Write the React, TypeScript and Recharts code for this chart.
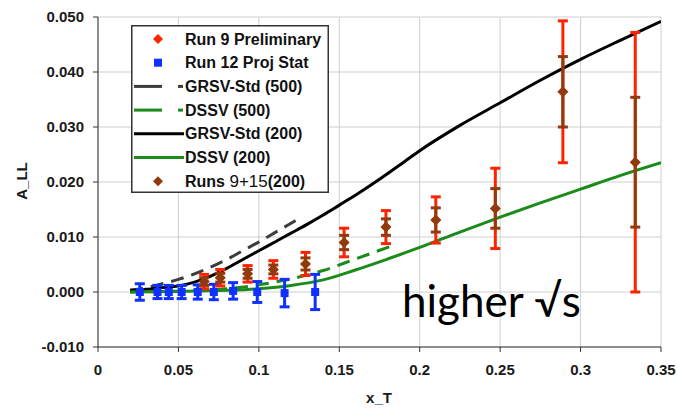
import React from 'react';
import {
  ComposedChart,
  Line,
  Scatter,
  ErrorBar,
  XAxis,
  YAxis,
  CartesianGrid,
  Legend,
} from 'recharts';

// axis ticks
const xTicks = [0, 0.05, 0.1, 0.15, 0.2, 0.25, 0.3, 0.35];
const yTicks = [-0.01, 0, 0.01, 0.02, 0.03, 0.04, 0.05];

// theory curves (x_T, A_LL)
const grsv500X = [0.02, 0.03, 0.04, 0.05, 0.06, 0.07, 0.08, 0.09, 0.1, 0.11, 0.12, 0.127];
const grsv500Y = [0.0003, 0.0008, 0.0015, 0.0023, 0.0033, 0.0045, 0.0059, 0.0075, 0.0091, 0.0108, 0.0125, 0.0138];

const dssv500X = [0.02, 0.04, 0.06, 0.08, 0.1, 0.12, 0.14, 0.16, 0.181];
const dssv500Y = [0.0, 0.0001, 0.0003, 0.0006, 0.0013, 0.0024, 0.0039, 0.006, 0.0082];

const grsv200X = [0.02, 0.03, 0.04, 0.05, 0.06, 0.07, 0.08, 0.09, 0.1, 0.11, 0.12, 0.13, 0.14, 0.15, 0.16, 0.175, 0.19, 0.2, 0.225, 0.25, 0.275, 0.3, 0.325, 0.35];
const grsv200Y = [0.0003, 0.0005, 0.0008, 0.0011, 0.0018, 0.0029, 0.0043, 0.0059, 0.0075, 0.0091, 0.0107, 0.0123, 0.014, 0.0158, 0.0176, 0.0205, 0.0236, 0.0257, 0.0303, 0.0344, 0.0385, 0.0423, 0.0458, 0.0492];

const dssv200X = [0.02, 0.05, 0.08, 0.1, 0.12, 0.14, 0.16, 0.18, 0.2, 0.225, 0.25, 0.275, 0.3, 0.325, 0.35];
const dssv200Y = [0.0, 0.0001, 0.0003, 0.0006, 0.0012, 0.0022, 0.004, 0.006, 0.0081, 0.0109, 0.0136, 0.0162, 0.0187, 0.0212, 0.0235];

// 200 GeV bins: Run 9 preliminary and Runs 9+15 share the central values
const binX = [0.066, 0.076, 0.093, 0.109, 0.129, 0.153, 0.179, 0.21, 0.247, 0.289, 0.334];
const binALL = [0.0019, 0.0026, 0.0033, 0.0041, 0.0051, 0.009, 0.0118, 0.0131, 0.0152, 0.0364, 0.0236];
const run9Err = [0.0013, 0.0015, 0.0015, 0.0016, 0.0021, 0.0026, 0.003, 0.0042, 0.0073, 0.0129, 0.0236];
const runs915Err = [0.0007, 0.0008, 0.0008, 0.0008, 0.0011, 0.0013, 0.0015, 0.0022, 0.0036, 0.0064, 0.0118];

// Run 12 projected statistical uncertainties
const run12X = [0.026, 0.037, 0.044, 0.052, 0.062, 0.072, 0.084, 0.099, 0.116, 0.135];
const run12ALL = [0, 0, 0, 0, 0, 0, 0.0002, 0, -0.0002, 0];
const run12Err = [0.0015, 0.0012, 0.0012, 0.0012, 0.0013, 0.0014, 0.0015, 0.0019, 0.0025, 0.0032];

const RED = '#ff2200';
const BLUE = '#1030ff';
const BROWN = '#933a0c';
const GREEN = '#1b8c1b';
const DARK = '#3c3c3c';
const FONT = '"Liberation Sans", Arial, sans-serif';

const curve = (xs: number[], ys: number[]) => xs.map((x, i) => ({ x, y: ys[i] }));
const points = (xs: number[], ys: number[], errs: number[]) =>
  xs.map((x, i) => ({ x, y: ys[i], err: errs[i] }));

const grsv500 = curve(grsv500X, grsv500Y);
const dssv500 = curve(dssv500X, dssv500Y);
const grsv200 = curve(grsv200X, grsv200Y);
const dssv200 = curve(dssv200X, dssv200Y);
const run9 = points(binX, binALL, run9Err);
const runs915 = points(binX, binALL, runs915Err);
const run12 = points(run12X, run12ALL, run12Err);

const Diamond = (color: string, r: number) => (props: any) => {
  const { cx, cy } = props;
  if (cx == null || cy == null) return <g />;
  return (
    <polygon
      points={`${cx},${cy - r} ${cx + r},${cy} ${cx},${cy + r} ${cx - r},${cy}`}
      fill={color}
    />
  );
};

const Square = (color: string, h: number) => (props: any) => {
  const { cx, cy } = props;
  if (cx == null || cy == null) return <g />;
  return <rect x={cx - h} y={cy - h} width={h * 2} height={h * 2} fill={color} />;
};

const legendRows = [
  { kind: 'diamond', color: RED, label: 'Run 9 Preliminary' },
  { kind: 'square', color: BLUE, label: 'Run 12 Proj Stat' },
  { kind: 'dash', color: DARK, label: 'GRSV-Std (500)' },
  { kind: 'dash', color: GREEN, label: 'DSSV (500)' },
  { kind: 'line', color: '#000000', label: 'GRSV-Std (200)' },
  { kind: 'line', color: GREEN, label: 'DSSV (200)' },
  { kind: 'diamond', color: BROWN, label: 'runs' },
];

const LegendBox = () => (
  <svg width={198} height={168} style={{ display: 'block' }}>
    <rect x={0.75} y={0.75} width={196.5} height={166.5} fill="#ffffff" stroke="#333333" strokeWidth={1.5} />
    {legendRows.map((row, i) => {
      const y = 14 + i * 23.7;
      let symbol: React.ReactNode = null;
      if (row.kind === 'diamond') {
        symbol = <polygon points={`27,${y - 5} 32,${y} 27,${y + 5} 22,${y}`} fill={row.color} />;
      } else if (row.kind === 'square') {
        symbol = <rect x={23} y={y - 4} width={8} height={8} fill={row.color} />;
      } else if (row.kind === 'dash') {
        symbol = (
          <g stroke={row.color} strokeWidth={3}>
            <line x1={3} y1={y} x2={31} y2={y} />
            <line x1={47} y1={y} x2={52} y2={y} />
          </g>
        );
      } else {
        symbol = <line x1={3} y1={y} x2={53} y2={y} stroke={row.color} strokeWidth={3} />;
      }
      return (
        <g key={i}>
          {symbol}
          <text x={54} y={y + 5.5} fontFamily={FONT} fontSize={16} fontWeight="bold" fill="#111">
            {row.label === 'runs' ? (
              <>
                <tspan>Runs </tspan>
                <tspan fontWeight="normal" fontSize={17}> 9+15</tspan>
                <tspan>(200)</tspan>
              </>
            ) : (
              row.label
            )}
          </text>
        </g>
      );
    })}
  </svg>
);

const tickStyle = { fill: '#1a1a1a', fontSize: 15, fontWeight: 'bold', fontFamily: FONT };

export default function App() {
  return (
    <div style={{ position: 'absolute', left: 0, top: 0, background: '#ffffff' }}>
      <ComposedChart width={677} height={408} margin={{ top: 17, right: 16, bottom: 0, left: 0 }}>
        <CartesianGrid stroke="#cfcfcf" strokeWidth={1} />
        <XAxis
          dataKey="x"
          type="number"
          domain={[0, 0.35]}
          ticks={xTicks}
          allowDataOverflow
          height={61}
          tick={tickStyle}
          tickSize={5}
          tickMargin={12}
          tickFormatter={(v: number) => String(v)}
          stroke="#333333"
        />
        <YAxis
          type="number"
          domain={[-0.01, 0.05]}
          ticks={yTicks}
          allowDataOverflow
          width={98}
          tick={tickStyle}
          tickSize={5}
          tickMargin={9}
          tickFormatter={(v: number) => v.toFixed(3)}
          stroke="#333333"
        />
        <Line data={grsv500} dataKey="y" type="monotone" stroke={DARK} strokeWidth={3} strokeDasharray="13 8" dot={false} isAnimationActive={false} />
        <Line data={dssv500} dataKey="y" type="monotone" stroke={GREEN} strokeWidth={3} strokeDasharray="13 8" dot={false} isAnimationActive={false} />
        <Line data={grsv200} dataKey="y" type="monotone" stroke="#000000" strokeWidth={3} dot={false} isAnimationActive={false} />
        <Line data={dssv200} dataKey="y" type="monotone" stroke={GREEN} strokeWidth={3} dot={false} isAnimationActive={false} />
        <Scatter data={run12} dataKey="y" shape={Square(BLUE, 4)} isAnimationActive={false}>
          <ErrorBar dataKey="err" direction="y" width={5} strokeWidth={3} stroke={BLUE} />
        </Scatter>
        <Scatter data={run9} dataKey="y" shape={Diamond(RED, 5)} isAnimationActive={false}>
          <ErrorBar dataKey="err" direction="y" width={5} strokeWidth={3} stroke={RED} />
        </Scatter>
        <Scatter data={runs915} dataKey="y" shape={Diamond(BROWN, 5.5)} isAnimationActive={false}>
          <ErrorBar dataKey="err" direction="y" width={5} strokeWidth={3} stroke={BROWN} />
        </Scatter>
        <Legend
          layout="vertical"
          align="center"
          verticalAlign="middle"
          content={() => <LegendBox />}
          wrapperStyle={{ left: 131, top: 25, width: 198, height: 168 }}
        />
        <text x={27} y={181} transform="rotate(-90 27 181)" textAnchor="middle" fontFamily={FONT} fontSize={15} fontWeight="bold" fill="#1a1a1a">
          A_LL
        </text>
        <text x={379} y={403} textAnchor="middle" fontFamily={FONT} fontSize={15} fontWeight="bold" fill="#1a1a1a">
          x_T
        </text>
        <text x={402} y={317} fontFamily="Lato, 'Open Sans', sans-serif" fontSize={44} fill="#000000">
          higher √s
        </text>
      </ComposedChart>
    </div>
  );
}
